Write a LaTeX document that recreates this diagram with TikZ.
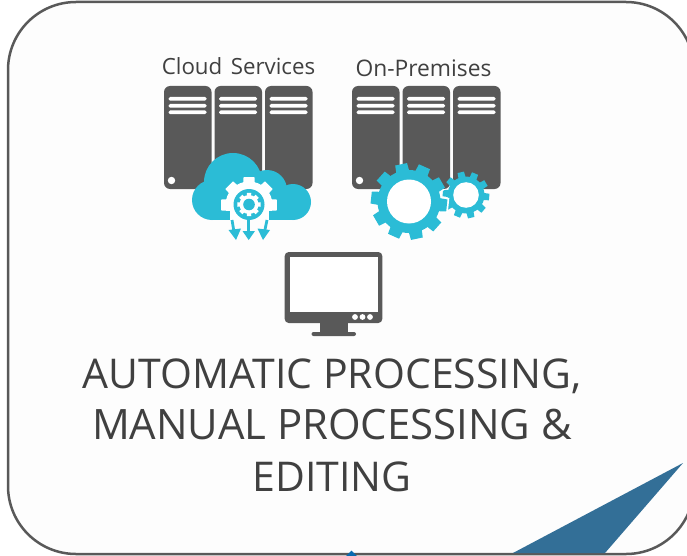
\documentclass[tikz,border=0pt]{standalone}
\usepackage{fontspec}
\setmainfont{Open Sans}
\usetikzlibrary{calc}
\definecolor{srv}{HTML}{595959}
\definecolor{cyn}{HTML}{2BBCD6}
\definecolor{txt}{HTML}{404040}
\definecolor{tri}{HTML}{336F97}
\definecolor{bg}{HTML}{FDFDFD}
\definecolor{tipblue}{HTML}{0A6AB0}
\tikzset{
  panel/.style={draw=srv,line width=2.5pt,fill=bg,rounded corners=68pt},
  rack/.style={fill=srv,rounded corners=6pt},
  slot/.style={fill=white,rounded corners=1.5pt},
  label/.style={text=txt,inner sep=0pt,font=\fontsize{22.3}{26}\selectfont},
  title/.style={text=txt,inner sep=0pt,align=center,font=\fontsize{41}{51.5}\selectfont},
  drop/.style={draw=cyn,line width=2.8pt},
}
\newcommand{\gearshape}[9]{%
  \fill[#8] (#1,#2) circle[radius=#4];
  \foreach \k in {1,...,#5}{
    \pgfmathsetmacro{\ang}{#9+\k*360/#5}
    \fill[#8] ($(#1,#2)+(\ang-#6:#4-1)$) -- ($(#1,#2)+(\ang-#7:#3)$) -- ($(#1,#2)+(\ang+#7:#3)$) -- ($(#1,#2)+(\ang+#6:#4-1)$) -- cycle;
  }%
}
\newcommand{\rackset}[1]{%
  \begin{scope}[shift={(#1,86)}]
    \foreach \dx in {0,50.5,101}{
      \fill[rack] (\dx,0) rectangle ++(47.5,103);
      \foreach \yy in {11,18,24.5}
        \fill[slot] (\dx+4.5,\yy) rectangle ++(38,3.6);
    }
    \fill[white] (7.5,94.5) circle[radius=3.7];
  \end{scope}%
}
\begin{document}
\begin{tikzpicture}[x=1pt,y=-1pt]
\useasboundingbox (0,0) rectangle (687,556);
\fill[white] (0,0) rectangle (687,556);
\begin{scope}
\clip (0,0) rectangle (687,556);
\draw[panel] (8,2) rectangle (694,554);
\fill[tri] (683,463) -- (605,553) -- (513,553) -- cycle;
\fill[tipblue] (351.5,550.5) -- (357,556) -- (346,556) -- cycle;
\end{scope}

% cloud services
\rackset{164}
\fill[cyn] (233,182) circle[radius=29];
\fill[cyn] (267,190) circle[radius=20];
\fill[cyn] (212,200) circle[radius=20];
\fill[cyn] (293,202) circle[radius=18];
\fill[cyn] (212,190) rectangle (293,220);
\gearshape{249}{205}{28.5}{23.5}{8}{15}{11}{white}{0}
\fill[cyn] (214,211) rectangle (229.5,220);
\fill[cyn] (268.5,211) rectangle (285,220);
\fill[bg] (215,220) rectangle (285,245);
\fill[cyn] (249,204.5) circle[radius=15.5];
\gearshape{249}{204.5}{11.8}{9.5}{8}{15}{11}{white}{0}
\fill[cyn] (249,204.5) circle[radius=5.8];
\draw[drop] (232,220) -- (234,232);
\draw[drop] (248.7,220) -- (248.7,232);
\draw[drop] (267,220) -- (264.5,232);
\fill[cyn] (228.5,230) -- (241,228.5) -- (236,240) -- cycle;
\fill[cyn] (242.5,231) -- (255,231) -- (248.7,240) -- cycle;
\fill[cyn] (257.5,228.5) -- (270,230) -- (263,240) -- cycle;

% on-premises
\rackset{352}
\gearshape{466}{195}{23.5}{18.5}{10}{12}{8}{cyn}{5}
\fill[white] (466,195) circle[radius=12.8];
\begin{scope}
\clip (438,189) rectangle (470,240);
\gearshape{409}{201.5}{40.5}{33}{10}{14}{11}{white}{6}
\end{scope}
\gearshape{409}{201.5}{38.5}{31.5}{10}{12.5}{9}{cyn}{6}
\fill[white] (409,201.5) circle[radius=22];

% monitor
\fill[srv,rounded corners=4pt] (284.7,252) rectangle (382.3,323);
\fill[white] (290,257) rectangle (377.5,311.5);
\fill[srv] (320,322) rectangle (347.5,333);
\fill[srv,rounded corners=2pt] (311.5,332) rectangle (356,336);
\foreach \cx in {355,362.5,370} \fill[white] (\cx,317) circle[radius=2.9];

% texts
\node[label,anchor=base] (cloud) at (238.5,75) {Cloud\hspace{0.12em} Services};
\node[label,anchor=base,font=\fontsize{22.8}{26}\selectfont] (prem) at (423.5,76.5) {On-Premises};
\node[title,anchor=base] (head) at (332,491) {AUTOMATIC PROCESSING,\\{\fontsize{41.9}{51.5}\selectfont MANUAL PROCESSING \&}\\EDITING};
\end{tikzpicture}
\end{document}
